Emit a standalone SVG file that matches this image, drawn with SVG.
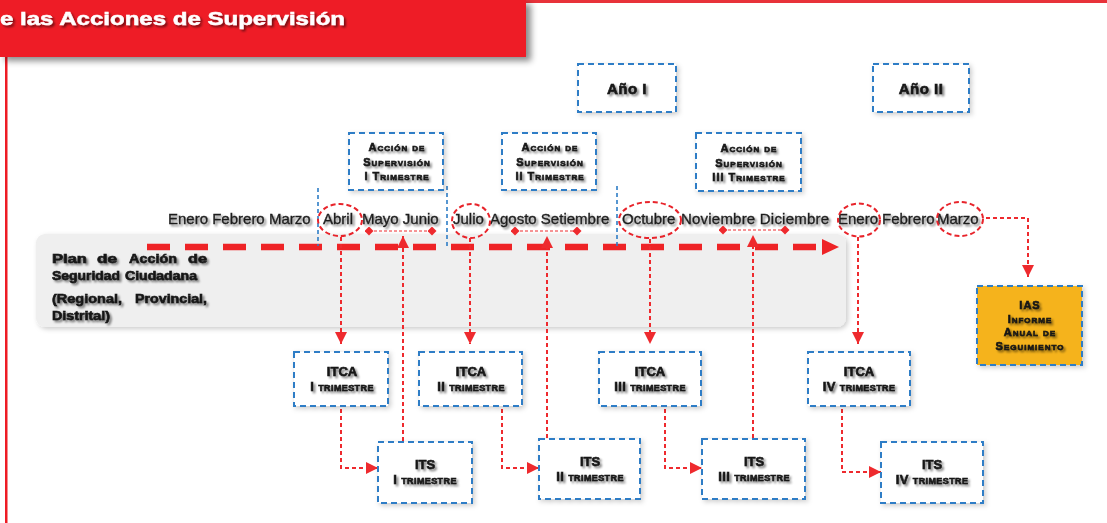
<svg xmlns="http://www.w3.org/2000/svg" width="1107" height="523" viewBox="0 0 1107 523">
<defs>
<style>
.m{font-family:"Liberation Sans",Arial,sans-serif;font-size:15px;fill:#1e1e1e;stroke:#1e1e1e;stroke-width:0.35;filter:url(#ts)}
.b{font-family:"Liberation Sans",Arial,sans-serif;font-weight:bold;fill:#151515;stroke:#151515;stroke-width:0.6;filter:url(#ts)}
.sc{font-variant:small-caps}
.box{fill:#fff;stroke:#2e7dc6;stroke-width:2;stroke-dasharray:6 4;filter:url(#bs)}
.div{stroke:#2e7dc6;stroke-width:1.6;stroke-dasharray:4 3;fill:none}
.ell{fill:none;stroke:#e8242b;stroke-width:2;stroke-dasharray:5 3}
.c{fill:none;stroke:#ee2a2e;stroke-width:2;stroke-dasharray:4 3;marker-end:url(#ah)}
.d{fill:none;stroke:#ee2a2e;stroke-width:1;stroke-dasharray:3 2;marker-start:url(#dm);marker-end:url(#dm)}
</style>
<filter id="ts" x="-10%" y="-40%" width="130%" height="190%">
<feGaussianBlur in="SourceAlpha" stdDeviation="1.2"/>
<feOffset dx="1.5" dy="2"/>
<feComponentTransfer><feFuncA type="linear" slope="0.5"/></feComponentTransfer>
<feMerge><feMergeNode/><feMergeNode in="SourceGraphic"/></feMerge>
</filter>
<filter id="bs" x="-10%" y="-10%" width="130%" height="130%">
<feDropShadow dx="2" dy="2" stdDeviation="2.5" flood-color="#000" flood-opacity="0.2"/>
</filter>
<filter id="bn" x="-5%" y="-10%" width="115%" height="130%">
<feDropShadow dx="5" dy="4" stdDeviation="3" flood-color="#000" flood-opacity="0.45"/>
</filter>
<marker id="ah" markerUnits="userSpaceOnUse" markerWidth="12" markerHeight="12" viewBox="0 0 10 10" refX="10" refY="5" orient="auto">
<path d="M0,0 L10,5 L0,10 z" fill="#ee2a2e"/>
</marker>
<marker id="dm" markerUnits="userSpaceOnUse" markerWidth="9" markerHeight="9" viewBox="0 0 10 10" refX="5" refY="5" orient="auto">
<path d="M5,0 L10,5 L5,10 L0,5 z" fill="#ee2a2e"/>
</marker>
</defs>
<rect width="1107" height="523" fill="#fff"/>

<g id="banner">
<rect x="526" y="0" width="581" height="3" fill="#e8323a"/>
<rect x="5" y="50" width="2.5" height="473" fill="#ee1c25"/>
<rect x="0" y="0" width="526" height="57" fill="#ee1c25" filter="url(#bn)"/>
<text x="0" y="25" textLength="345" lengthAdjust="spacingAndGlyphs" font-family="Liberation Sans, Arial, sans-serif" font-weight="bold" font-size="19" fill="#fff" stroke="#fff" stroke-width="0.5" filter="url(#ts)">e las Acciones de Supervisión</text>
</g>

<g id="panel">
<rect x="36" y="234" width="810" height="93" rx="9" fill="#efefef" filter="url(#bs)"/>
<g class="b" font-size="12.5">
<text x="52" y="263" textLength="35" lengthAdjust="spacingAndGlyphs">Plan</text>
<text x="97" y="263" textLength="20" lengthAdjust="spacingAndGlyphs">de</text>
<text x="129" y="263" textLength="48" lengthAdjust="spacingAndGlyphs">Acción</text>
<text x="188" y="263" textLength="19" lengthAdjust="spacingAndGlyphs">de</text>
<text x="52" y="280" textLength="68" lengthAdjust="spacingAndGlyphs">Seguridad</text>
<text x="125" y="280" textLength="72" lengthAdjust="spacingAndGlyphs">Ciudadana</text>
<text x="52" y="303" textLength="70" lengthAdjust="spacingAndGlyphs">(Regional,</text>
<text x="135" y="303" textLength="72" lengthAdjust="spacingAndGlyphs">Provincial,</text>
<text x="52" y="320" textLength="58" lengthAdjust="spacingAndGlyphs">Distrital)</text>
</g>
</g>

<g id="timeline">
<line x1="147" y1="247" x2="824" y2="247" stroke="#ee2326" stroke-width="6.5" stroke-dasharray="23 15"/>
<path d="M822,239 L839,247 L822,255 z" fill="#ee2326"/>
<line class="div" x1="318" y1="188" x2="318" y2="246"/>
<line class="div" x1="447" y1="186" x2="447" y2="248"/>
<line class="div" x1="617" y1="186" x2="617" y2="248"/>
</g>

<g id="months">
<text class="m" x="168" y="224">Enero Febrero Marzo</text>
<text class="m" x="323" y="224">Abril</text>
<text class="m" x="362" y="224">Mayo Junio</text>
<text class="m" x="453" y="224">Julio</text>
<text class="m" x="490" y="224">Agosto Setiembre</text>
<text class="m" x="622" y="224">Octubre</text>
<text class="m" x="681" y="224" textLength="148">Noviembre Diciembre</text>
<text class="m" x="838" y="224">Enero</text>
<text class="m" x="882" y="224">Febrero</text>
<text class="m" x="937" y="224">Marzo</text>
<ellipse class="ell" cx="340" cy="220" rx="22" ry="16"/>
<ellipse class="ell" cx="471" cy="221" rx="19" ry="17"/>
<ellipse class="ell" cx="650" cy="220" rx="31" ry="18"/>
<ellipse class="ell" cx="859" cy="220" rx="21" ry="16.5"/>
<ellipse class="ell" cx="960" cy="219" rx="23" ry="17"/>
</g>

<g id="connectors">
<path class="d" d="M369,231 H432"/>
<path class="d" d="M515,231 H577"/>
<path class="d" d="M723,230 H785"/>
<path class="c" d="M341,237 V344"/>
<path class="c" d="M470,238 V344"/>
<path class="c" d="M650,239 V344"/>
<path class="c" d="M858,237 V344"/>
<path class="c" d="M986,218 H1028 V277"/>
<path class="c" d="M341,409 V468 H378"/>
<path class="c" d="M502,409 V468 H539"/>
<path class="c" d="M665,409 V468 H702"/>
<path class="c" d="M842,409 V472 H881"/>
<path class="c" d="M403,441 V236"/>
<path class="c" d="M547,438 V236"/>
<path class="c" d="M753,438 V235"/>
</g>

<g id="ano1"><rect class="box" x="578" y="64" width="98" height="48"/><text class="b" x="627" y="94" font-size="15" text-anchor="middle" letter-spacing="0.5">Año I</text></g>
<g id="ano2"><rect class="box" x="873" y="64" width="96" height="48"/><text class="b" x="921" y="94" font-size="15" text-anchor="middle" letter-spacing="0.5">Año II</text></g>

<g id="accion1"><rect class="box" x="349" y="133" width="94" height="57"/>
<g class="b sc" font-size="11" letter-spacing="1" text-anchor="middle"><text x="397" y="151">Acción de</text><text x="397" y="166">Supervisión</text><text x="397" y="180">I Trimestre</text></g></g>
<g id="accion2"><rect class="box" x="502" y="133" width="94" height="57"/>
<g class="b sc" font-size="11" letter-spacing="1" text-anchor="middle"><text x="550" y="151">Acción de</text><text x="550" y="166">Supervisión</text><text x="550" y="180">II Trimestre</text></g></g>
<g id="accion3"><rect class="box" x="696" y="133" width="105" height="58"/>
<g class="b sc" font-size="11" letter-spacing="1" text-anchor="middle"><text x="749" y="152">Acción de</text><text x="749" y="167">Supervisión</text><text x="749" y="181">III Trimestre</text></g></g>

<g id="itca1"><rect class="box" x="294" y="352" width="94" height="54"/>
<text class="b" x="342" y="376" font-size="13" text-anchor="middle">ITCA</text><text class="b sc" x="342" y="391" font-size="13" letter-spacing="0.4" text-anchor="middle">I trimestre</text></g>
<g id="itca2"><rect class="box" x="419" y="352" width="103" height="54"/>
<text class="b" x="471" y="376" font-size="13" text-anchor="middle">ITCA</text><text class="b sc" x="471" y="391" font-size="13" letter-spacing="0.4" text-anchor="middle">II trimestre</text></g>
<g id="itca3"><rect class="box" x="599" y="352" width="102" height="54"/>
<text class="b" x="650" y="376" font-size="13" text-anchor="middle">ITCA</text><text class="b sc" x="650" y="391" font-size="13" letter-spacing="0.4" text-anchor="middle">III trimestre</text></g>
<g id="itca4"><rect class="box" x="808" y="352" width="102" height="54"/>
<text class="b" x="859" y="376" font-size="13" text-anchor="middle">ITCA</text><text class="b sc" x="859" y="391" font-size="13" letter-spacing="0.4" text-anchor="middle">IV trimestre</text></g>

<g id="its1"><rect class="box" x="378" y="442" width="94" height="61"/>
<text class="b" x="425" y="469" font-size="13" text-anchor="middle">ITS</text><text class="b sc" x="425" y="484" font-size="13" letter-spacing="0.4" text-anchor="middle">I trimestre</text></g>
<g id="its2"><rect class="box" x="539" y="439" width="101" height="60"/>
<text class="b" x="590" y="466" font-size="13" text-anchor="middle">ITS</text><text class="b sc" x="590" y="481" font-size="13" letter-spacing="0.4" text-anchor="middle">II trimestre</text></g>
<g id="its3"><rect class="box" x="702" y="439" width="103" height="60"/>
<text class="b" x="754" y="466" font-size="13" text-anchor="middle">ITS</text><text class="b sc" x="754" y="481" font-size="13" letter-spacing="0.4" text-anchor="middle">III trimestre</text></g>
<g id="its4"><rect class="box" x="881" y="442" width="102" height="61"/>
<text class="b" x="932" y="469" font-size="13" text-anchor="middle">ITS</text><text class="b sc" x="932" y="484" font-size="13" letter-spacing="0.4" text-anchor="middle">IV trimestre</text></g>

<g id="ias"><rect class="box" x="977" y="286" width="105" height="79" style="fill:#f5b31c"/>
<g class="b sc" font-size="11" letter-spacing="1" text-anchor="middle"><text x="1030" y="309">IAS</text><text x="1030" y="323">Informe</text><text x="1030" y="336">Anual de</text><text x="1030" y="350">Seguimiento</text></g></g>
</svg>
